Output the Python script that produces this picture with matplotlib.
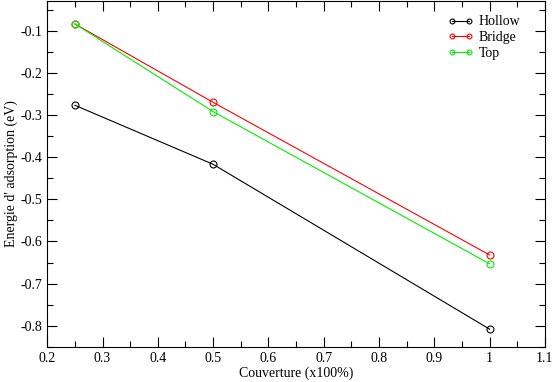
import matplotlib
matplotlib.use("Agg")
import matplotlib.pyplot as plt
from matplotlib.ticker import MultipleLocator

plt.rcParams['font.family'] = ['Liberation Serif', 'DejaVu Serif']
plt.rcParams['axes.unicode_minus'] = False

coverage = [0.25, 0.5, 1.0]
hollow = [-0.277, -0.417, -0.808]
bridge = [-0.084, -0.270, -0.632]
top = [-0.084, -0.292, -0.653]

fig = plt.figure(figsize=(5.56, 3.82), dpi=100)
ax = fig.add_axes([0.085, 0.092, 0.895, 0.905])

for vals, col, name in [(hollow, 'black', 'Hollow'), (bridge, '#ff0000', 'Bridge'), (top, '#00ee00', 'Top')]:
    ax.plot(coverage, vals, color=col, lw=0.8, marker='o', ms=5,
            mfc='none', mec=col, mew=0.8, label=name)

ax.set_xlim(0.2, 1.1)
ax.set_ylim(-0.85, -0.03)
ax.xaxis.set_major_locator(MultipleLocator(0.1))
ax.xaxis.set_minor_locator(MultipleLocator(0.05))
ax.yaxis.set_major_locator(MultipleLocator(0.1))
ax.yaxis.set_minor_locator(MultipleLocator(0.05))
ax.xaxis.set_major_formatter(plt.FuncFormatter(lambda v, p: '%g' % round(v, 2)))
ax.yaxis.set_major_formatter(plt.FuncFormatter(lambda v, p: '%g' % round(v, 2)))
ax.tick_params(which='both', direction='in', top=True, right=True, labelsize=10)
ax.tick_params(which='major', length=7, width=0.8)
ax.tick_params(which='minor', length=4, width=0.8)

ax.set_xlabel('Couverture (x100%)', fontsize=10, labelpad=1)
ax.set_ylabel("Energie d' adsorption (eV)", fontsize=10, labelpad=2)

ax.legend(loc='upper right', frameon=False, numpoints=2, fontsize=10,
          handlelength=1.8, handletextpad=0.4, labelspacing=0.2, markerscale=0.7,
          bbox_to_anchor=(0.975, 0.995))

fig.savefig('out.png', dpi=100)
